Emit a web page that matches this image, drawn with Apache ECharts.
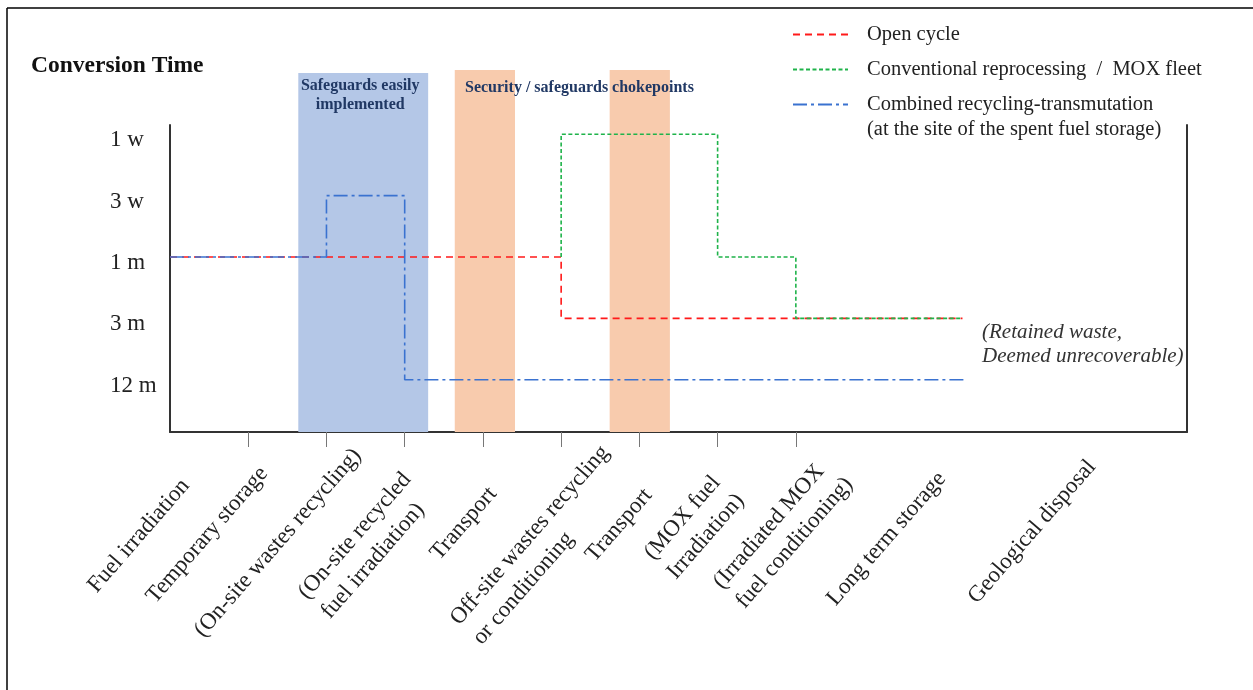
<!DOCTYPE html>
<html><head><meta charset="utf-8">
<script src="https://cdn.jsdelivr.net/npm/echarts@6/dist/echarts.min.js"></script>
<style>html,body{margin:0;padding:0;background:#fff}#c{width:1253px;height:690px}</style>
</head><body><div id="c"></div>
<script>
// ---------- data ----------
const stages = [
  'Fuel irradiation',
  'Temporary storage',
  '(On-site wastes recycling)',
  '(On-site recycled\nfuel irradiation)',
  'Transport',
  'Off-site wastes recycling\nor conditioning',
  'Transport',
  '(MOX fuel\nIrradiation)',
  '(Irradiated MOX\nfuel conditioning)',
  'Long term storage',
  'Geological disposal'
];
const timeLevels = ['1 w', '3 w', '1 m', '3 m', '12 m'];
const stageBoundaries = [1, 2, 3, 4, 5, 6, 7, 8];
const seriesNames = [
  'Open cycle',
  'Conventional reprocessing  /  MOX fleet',
  'Combined recycling-transmutation\n(at the site of the spent fuel storage)'
];
const openCycle = [[0, '1 m'], [5, '3 m'], [10.13, '3 m']];
const moxFleet = [[5, '1 m'], [5, '1 w'], [7, '1 m'], [8, '3 m'], [10.1, '3 m']];
const recyclingTransmutation = [[0, '1 m'], [2, '3 w'], [3, '12 m'], [10.15, '12 m']];
const safeguardsZone = [1.64, 3.30];
const chokepointZones = [[3.64, 4.41], [5.62, 6.39]];
const zoneTexts = ['Safeguards easily\nimplemented', 'Security / safeguards chokepoints'];
const titleText = 'Conversion Time';
const noteText = '(Retained waste,\nDeemed unrecoverable)';

// ---------- layout (not data) ----------
const SERIF = '"Liberation Serif", "Times New Roman", serif';
const labelAnchor = [0.610, 1.478, 2.468, 3.628, 4.629, 5.858, 6.632, 7.613, 8.817, 10.201, 11.985];
const labelPad = [49, 33, 9, 54, 60, 18, 62, 56, 34, 40, 24];
const Y_MIN = 0.85, Y_MAX = 5.85;      // plot frame grid
const Y_MIN_BAND = -0.05;              // band grid (same scale, taller)

const lv = name => timeLevels.indexOf(name) + 1;
const toXY = arr => arr.map(([x, l]) => [x, lv(l)]);

const rich = {};
stages.forEach((s, i) => {
  rich['s' + i] = {
    fontFamily: SERIF, fontSize: 23, color: '#222', lineHeight: 30, align: 'left',
    padding: [0, labelPad[i], 0, 0]
  };
});

const chart = echarts.init(document.getElementById('c'), null, {renderer: 'canvas'});
const legendBase = {
  orient: 'vertical', left: 792, itemWidth: 55, itemHeight: 14, padding: 0,
  itemStyle: {opacity: 0},
  textStyle: {fontFamily: SERIF, fontSize: 20.5, color: '#222', lineHeight: 25, padding: [0, 0, 0, 14]}
};
chart.setOption({
  backgroundColor: '#fff',
  animation: false,
  title: [
    {text: titleText, left: 31, top: 54, padding: 0,
     textStyle: {fontFamily: SERIF, fontSize: 23.5, fontWeight: 'bold', color: '#111'}},
    {text: zoneTexts[1], left: 465, top: 79, padding: 0,
     textStyle: {fontFamily: SERIF, fontSize: 16, fontWeight: 'bold', color: '#203864', lineHeight: 18}},
    {text: noteText, left: 982, top: 320, padding: 0,
     textStyle: {fontFamily: SERIF, fontSize: 21, fontStyle: 'italic', fontWeight: 'normal', color: '#333', lineHeight: 24}}
  ],
  legend: [
    Object.assign({}, legendBase, {top: 22, data: [seriesNames[0]]}),
    Object.assign({}, legendBase, {top: 57, data: [seriesNames[1]]}),
    Object.assign({}, legendBase, {top: 67, data: [seriesNames[2]], formatter: n => '\n' + n})
  ],
  grid: [
    {left: 170, right: 66, top: 125, bottom: 258, containLabel: false},
    {left: 170, right: 66, top: 70, bottom: 258, containLabel: false}
  ],
  xAxis: [
    {
      type: 'value', min: 0, max: 13, gridIndex: 0,
      splitLine: {show: false},
      axisLine: {show: true, lineStyle: {color: '#333', width: 2}},
      axisTick: {show: true, customValues: stageBoundaries, length: 15, lineStyle: {color: '#777', width: 1}},
      axisLabel: {
        show: true, customValues: labelAnchor, rotate: 49, margin: 13,
        fontFamily: SERIF, fontSize: 23, color: '#222',
        formatter: v => {
          let idx = 0, best = 1e9;
          labelAnchor.forEach((a, i) => { const d = Math.abs(a - v); if (d < best) { best = d; idx = i; } });
          return stages[idx].split('\n').map(t => '{s' + idx + '|' + t + '}').join('\n');
        },
        rich: rich
      }
    },
    {type: 'value', min: 0, max: 13, gridIndex: 1, show: false, splitLine: {show: false}}
  ],
  yAxis: [
    {
      type: 'value', inverse: true, min: Y_MIN, max: Y_MAX, gridIndex: 0,
      splitLine: {show: false},
      axisLine: {show: true, lineStyle: {color: '#333', width: 2}},
      axisTick: {show: false},
      axisLabel: {
        customValues: [1, 2, 3, 4, 5], align: 'left', margin: 60,
        formatter: v => '{t|' + (timeLevels[Math.round(v) - 1] || '') + '}',
        rich: {t: {fontFamily: SERIF, fontSize: 23, color: '#222', padding: [12, 0, 0, 0]}}
      }
    },
    {
      type: 'value', inverse: true, min: Y_MIN, max: Y_MAX, position: 'right', gridIndex: 0,
      splitLine: {show: false},
      axisLine: {show: true, lineStyle: {color: '#333', width: 2}},
      axisTick: {show: false}, axisLabel: {show: false}
    },
    {type: 'value', inverse: true, min: Y_MIN_BAND, max: Y_MAX, gridIndex: 1, show: false, splitLine: {show: false}}
  ],
  series: [
    {
      type: 'line', name: 'zones', xAxisIndex: 1, yAxisIndex: 2, data: [], symbol: 'none', silent: true,
      markArea: {
        silent: true, itemStyle: {color: '#b4c7e7'},
        label: {show: true, position: 'insideTop', distance: 3, offset: [-3, 0], fontFamily: SERIF, fontSize: 16,
                fontWeight: 'bold', color: '#203864', lineHeight: 19, align: 'center'},
        data: [[{xAxis: safeguardsZone[0], yAxis: 0, name: zoneTexts[0]}, {xAxis: safeguardsZone[1], yAxis: Y_MAX}]]
      }
    },
    {
      type: 'line', name: 'chokepoints', xAxisIndex: 1, yAxisIndex: 2, data: [], symbol: 'none', silent: true,
      markArea: {
        silent: true, itemStyle: {color: '#f8cbad'}, label: {show: false},
        data: chokepointZones.map(z => [{xAxis: z[0], yAxis: Y_MIN_BAND}, {xAxis: z[1], yAxis: Y_MAX}])
      }
    },
    {
      type: 'line', name: seriesNames[0], data: toXY(openCycle), step: 'end', symbol: 'none',
      clip: false, z: 4,
      lineStyle: {color: '#ff1a1a', width: 1.6, type: [7, 5]}, itemStyle: {color: '#ff1a1a'}
    },
    {
      type: 'line', name: seriesNames[1], data: toXY(moxFleet), step: 'end', symbol: 'none',
      clip: false, z: 4,
      lineStyle: {color: '#1fb34a', width: 1.6, type: [4, 2.5]}, itemStyle: {color: '#1fb34a'}
    },
    {
      type: 'line', name: seriesNames[2], data: toXY(recyclingTransmutation), step: 'end', symbol: 'none',
      clip: false, z: 4,
      lineStyle: {color: '#3a72d0', width: 1.6, type: [14, 4, 3, 4]}, itemStyle: {color: '#3a72d0'}
    }
  ],
  graphic: [
    {type: 'line', shape: {x1: 7, y1: 8, x2: 1253, y2: 8}, style: {stroke: '#000', lineWidth: 1.5}},
    {type: 'line', shape: {x1: 7, y1: 8, x2: 7, y2: 690}, style: {stroke: '#000', lineWidth: 1.5}}
  ]
});
</script>
</body></html>
